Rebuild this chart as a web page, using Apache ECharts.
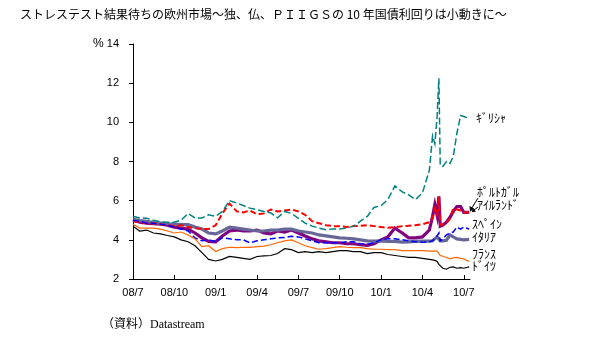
<!DOCTYPE html>
<html><head><meta charset="utf-8">
<script src="https://cdn.jsdelivr.net/npm/echarts@6/dist/echarts.min.js"></script>
<style>html,body{margin:0;padding:0;background:#fff}#c{width:610px;height:355px}</style>
</head><body><div id="c"></div>
<script>
const dates = [
 '2008-07-01','2008-07-16','2008-08-01','2008-08-16','2008-09-01','2008-09-16','2008-10-01','2008-10-16','2008-11-01','2008-11-16','2008-12-01','2008-12-16',
 '2009-01-01','2009-01-16','2009-02-01','2009-02-16','2009-03-01','2009-03-16','2009-04-01','2009-04-16','2009-05-01','2009-05-16','2009-06-01','2009-06-16',
 '2009-07-01','2009-07-16','2009-08-01','2009-08-16','2009-09-01','2009-09-16','2009-10-01','2009-10-16','2009-11-01','2009-11-16','2009-12-01','2009-12-16',
 '2010-01-01','2010-01-16','2010-02-01','2010-02-16','2010-03-01','2010-03-16',
 '2010-04-01','2010-04-16','2010-04-23','2010-04-28','2010-05-03','2010-05-07','2010-05-10','2010-05-16','2010-05-24','2010-06-01','2010-06-08','2010-06-16','2010-06-24','2010-07-01','2010-07-13'
];
const greece = [
 5.20,5.12,5.10,5.00,4.92,4.90,4.90,5.00,5.35,5.12,5.12,5.28,
 5.20,5.45,6.00,5.88,5.75,5.62,5.54,5.45,5.37,5.12,5.45,5.35,
 5.10,4.85,4.70,4.60,4.52,4.55,4.55,4.60,4.70,4.95,5.20,5.65,
 5.75,6.05,6.75,6.45,6.30,6.05,
 6.40,7.55,9.30,8.90,10.30,12.25,7.80,7.75,8.00,7.90,8.25,9.45,10.35,10.30,10.20
];
const portugal = [
 5.00,4.90,4.85,4.82,4.80,4.75,4.65,4.60,4.55,4.35,4.10,3.92,
 3.90,4.20,4.45,4.50,4.45,4.45,4.50,4.35,4.30,4.45,4.40,4.50,
 4.35,4.20,4.05,3.95,3.90,3.85,3.85,3.80,3.80,3.75,3.72,3.80,
 4.00,4.15,4.60,4.35,4.10,4.10,
 4.15,4.50,5.20,5.80,5.25,6.22,4.70,4.75,4.90,5.15,5.45,5.70,5.70,5.40,5.40
];
const ireland = [
 4.95,4.90,4.85,4.85,4.80,4.75,4.70,4.75,4.65,4.60,4.55,4.55,
 4.75,5.35,5.85,5.45,5.40,5.50,5.30,5.35,5.55,5.45,5.50,5.55,
 5.45,5.28,4.95,4.85,4.75,4.70,4.70,4.65,4.70,4.72,4.75,4.70,
 4.65,4.62,4.65,4.70,4.72,4.75,
 4.80,4.90,5.10,5.60,5.30,6.20,4.75,4.80,4.85,5.10,5.60,5.55,5.50,5.40,5.40
];
const spain = [
 5.00,4.95,4.85,4.85,4.80,4.75,4.65,4.55,4.45,4.10,3.95,4.00,
 3.90,4.10,4.05,4.00,4.00,3.85,3.95,4.00,4.05,4.10,4.12,4.18,
 4.15,4.05,3.95,3.85,3.85,3.85,3.85,3.90,3.90,3.80,3.78,3.85,
 4.00,4.05,4.05,4.00,3.95,3.90,
 3.88,3.90,3.95,4.10,4.20,4.35,3.95,4.05,4.25,4.35,4.40,4.65,4.55,4.65,4.55
];
const italy = [
 5.05,4.98,4.95,4.88,4.85,4.82,4.80,4.78,4.78,4.65,4.55,4.35,
 4.30,4.45,4.65,4.60,4.55,4.50,4.45,4.45,4.50,4.50,4.55,4.55,
 4.45,4.40,4.35,4.25,4.20,4.15,4.10,4.08,4.05,4.00,3.95,3.93,
 3.95,3.92,3.92,3.88,3.90,3.92,
 3.93,3.93,3.95,4.05,4.15,4.18,3.95,3.95,3.98,4.25,4.15,4.05,4.02,4.00,4.02
];
const france = [
 4.80,4.60,4.60,4.60,4.55,4.45,4.35,4.40,4.25,4.05,3.65,3.70,
 3.40,3.55,3.62,3.60,3.62,3.62,3.65,3.68,3.75,3.85,3.95,4.00,
 3.85,3.70,3.60,3.52,3.55,3.60,3.65,3.62,3.60,3.60,3.55,3.52,
 3.52,3.50,3.50,3.45,3.45,3.45,
 3.45,3.42,3.43,3.42,3.42,3.35,3.20,3.16,3.10,3.03,3.08,3.10,3.05,3.02,2.90
];
const germany = [
 4.70,4.45,4.50,4.35,4.30,4.22,4.15,4.00,3.90,3.70,3.35,3.00,
 2.92,3.00,3.15,3.10,3.05,3.00,3.15,3.18,3.20,3.30,3.55,3.50,
 3.35,3.40,3.35,3.40,3.35,3.40,3.45,3.45,3.40,3.40,3.30,3.35,
 3.35,3.25,3.20,3.15,3.10,3.10,
 3.05,3.00,2.98,2.95,2.90,2.75,2.70,2.55,2.50,2.60,2.62,2.55,2.58,2.55,2.62
];
const tickLabels = ['08/7','08/10','09/1','09/4','09/7','09/10','10/1','10/4','10/7'];
const seriesNames = ['ﾎﾟﾙﾄｶﾞﾙ','ｲﾀﾘｱ','ｱｲﾙﾗﾝﾄﾞ','ｽﾍﾟｲﾝ','ｷﾞﾘｼｬ','ﾌﾗﾝｽ','ﾄﾞｲﾂ'];
const titleText = 'ストレステスト結果待ちの欧州市場～独、仏、ＰＩＩＧＳの 10 年国債利回りは小動きに～';
const sourceText = '（資料）Datastream';

function monthIndex(s){
  const [y,m,d] = s.split('-').map(Number);
  const dim = new Date(y, m, 0).getDate();
  return (y-2008)*12 + (m-7) + (d-1)/dim;
}
const xs = dates.map(monthIndex);
const pair = vals => xs.map((x,i)=>[x, vals[i]]);

const chart = echarts.init(document.getElementById('c'), null, {renderer:'canvas'});
const lbl = {fontFamily:'"Noto Sans CJK JP"', fontSize:12, fill:'#000'};
function mk(name, vals, color, width, type){
  return {name, type:'line', data:pair(vals), symbol:'none', showSymbol:false,
    lineStyle:{color, width, type: type||'solid', cap:'butt', join:'miter'}, itemStyle:{color}, z:2};
}
chart.setOption({
  animation:false,
  backgroundColor:'#fff',
  grid:{left:133, right:140, top:44, bottom:76, containLabel:false},
  xAxis:{type:'value', min:0, max:24.45, interval:3,
    axisLine:{lineStyle:{color:'#000', width:1}},
    axisTick:{show:true, inside:true, length:4, lineStyle:{color:'#000'}, customValues:[0,3,6,9,12,15,18,21,24]},
    axisLabel:{color:'#000', fontSize:11, fontFamily:'"Liberation Sans", Arial, sans-serif', margin:8,
      customValues:[0,3,6,9,12,15,18,21,24],
      formatter:v=>tickLabels[Math.round(v/3)] || ''},
    splitLine:{show:false}},
  yAxis:{type:'value', min:2, max:14, interval:2,
    axisLine:{show:true, lineStyle:{color:'#000', width:1}},
    axisTick:{show:true, inside:false, length:4, lineStyle:{color:'#000'}},
    axisLabel:{color:'#000', fontSize:11, fontFamily:'"Liberation Sans", Arial, sans-serif', margin:14},
    splitLine:{show:false}},
  series:[
    mk(seriesNames[0], portugal, '#800080', 3.2),
    mk(seriesNames[1], italy, '#666699', 3.2),
    mk(seriesNames[2], ireland, '#FF0000', 2, [6,3]),
    mk(seriesNames[3], spain, '#0000FF', 1.5, [6,3]),
    mk(seriesNames[4], greece, '#008080', 1.5, [7,3]),
    mk(seriesNames[5], france, '#FF6600', 1.2),
    mk(seriesNames[6], germany, '#000000', 1.2)
  ],
  graphic:[
    {type:'text', left:20, top:8, style:{text:titleText, font:'12px "Noto Sans CJK JP"', fill:'#000'}},
    {type:'text', left:93, top:38, style:{text:'%', font:'12px "Liberation Sans"', fill:'#000'}},
    {type:'text', left:102, top:319, style:{text:sourceText, font:'12px "Liberation Serif", "Noto Sans CJK JP"', fill:'#000'}},
    {type:'text', x:476, y:118, style:Object.assign({text:seriesNames[4], verticalAlign:'middle'}, lbl)},
    {type:'text', x:477, y:192, style:Object.assign({text:seriesNames[0], verticalAlign:'middle'}, lbl)},
    {type:'text', x:477, y:205, style:Object.assign({text:seriesNames[2], verticalAlign:'middle'}, lbl)},
    {type:'text', x:472, y:224, style:Object.assign({text:seriesNames[3], verticalAlign:'middle'}, lbl)},
    {type:'text', x:472, y:237, style:Object.assign({text:seriesNames[1], verticalAlign:'middle'}, lbl)},
    {type:'text', x:472, y:254, style:Object.assign({text:seriesNames[5], verticalAlign:'middle'}, lbl)},
    {type:'text', x:472, y:266, style:Object.assign({text:seriesNames[6], verticalAlign:'middle'}, lbl)},
    {type:'line', shape:{x1:478, y1:198, x2:471.5, y2:208.5}, style:{stroke:'#000', lineWidth:1}},
    {type:'polygon', shape:{points:[[470,211.7],[469.5,206],[474,208.5]]}, style:{fill:'#000'}},
    {type:'line', shape:{x1:478, y1:207, x2:474, y2:210}, style:{stroke:'#000', lineWidth:1}},
    {type:'polygon', shape:{points:[[471.7,212.3],[473,208],[476,211.5]]}, style:{fill:'#000'}}
  ]
});
</script>
</body></html>
